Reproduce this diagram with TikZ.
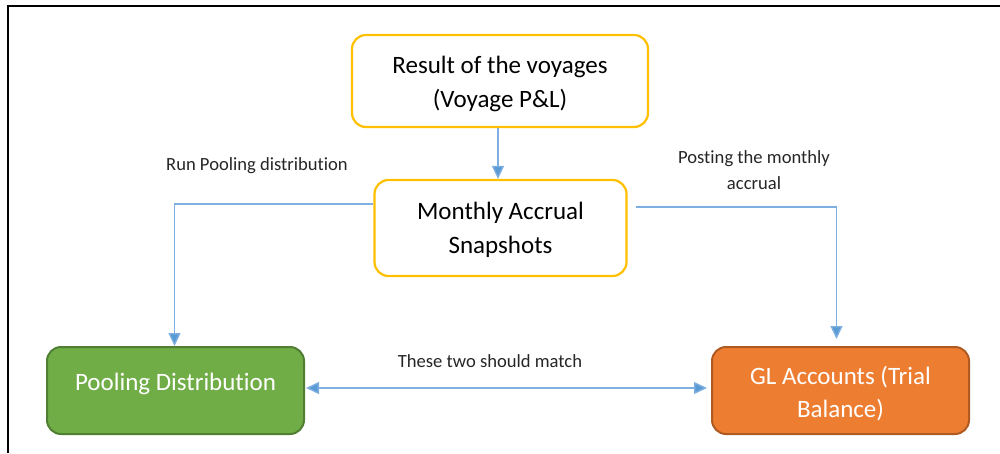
\documentclass[tikz,border=0pt]{standalone}
\usepackage{fontspec}
\setmainfont[Ligatures=NoCommon]{Carlito}
\usepackage{xcolor}
\usepackage{tikz}
\usetikzlibrary{arrows.meta,positioning}
\definecolor{pyellow}{HTML}{FFC000}
\definecolor{pgreen}{HTML}{70AD47}
\definecolor{pgreendark}{HTML}{507E32}
\definecolor{porange}{HTML}{ED7D31}
\definecolor{porangedark}{HTML}{AE5A21}
\definecolor{pline}{HTML}{7FAFE0}
\definecolor{ptip}{HTML}{5B9BD5}
\definecolor{ptext}{HTML}{262626}

\begin{document}
\begin{tikzpicture}[x=1pt,y=-1pt,
    stagebox/.style={draw=pyellow,line width=2.2pt,fill=white,rounded corners=14pt,
      align=center,text=black,font=\fontsize{25}{34}\selectfont,inner sep=0pt},
    resultbox/.style={line width=2pt,rounded corners=14pt,align=center,text=white,
      font=\fontsize{25}{33}\selectfont,inner sep=0pt,
      minimum width=257pt,minimum height=87pt},
    flow/.style={draw=pline,line width=1.3pt,-{Triangle[length=13pt,width=12pt,fill=ptip]}},
    note/.style={text=ptext,align=center,font=\fontsize{18.6}{26}\selectfont}]
  \useasboundingbox (0,0) rectangle (1000,453);
  % frame
  \draw[line width=2.5pt] (8,453) -- (8,6) -- (1000,6);

  % nodes
  \node[stagebox,minimum width=296pt,minimum height=92pt] (voyage) at (500,81)
    {\rule{0pt}{24pt}Result of the voyages\\(Voyage P\&L)};
  \node[stagebox,minimum width=252pt,minimum height=96pt] (snap) at (500.5,228)
    {\rule{0pt}{22pt}Monthly Accrual\\Snapshots};
  \node[resultbox,draw=pgreendark,fill=pgreen] (pool) at (175.5,390.5)
    {\raisebox{17pt}{Pooling Distribution}};
  \node[resultbox,draw=porangedark,fill=porange] (gl) at (840.5,390.5)
    {\rule{0pt}{24pt}GL Accounts (Trial\\Balance)};

  % labels
  \node[note] (runlbl) at (257,166) {Run Pooling distribution};
  \node[note] (postlbl) at (754,170) {Posting the monthly\\accrual};
  \node[note] (matchlbl) at (490,361) {These two should match};

  % connectors
  \draw[flow] ([xshift=-2pt]voyage.south) -- ([xshift=-2.5pt]snap.north);
  \draw[flow] ([shift={(0,-24)}]snap.west) -| ([xshift=-1pt]pool.north);
  \draw[flow] ([shift={(8,-21)}]snap.east) -| ([shift={(-4,-7)}]gl.north);
  \draw[flow,{Triangle[length=13pt,width=12pt,fill=ptip]}-{Triangle[length=13pt,width=12pt,fill=ptip]}]
    ([shift={(1,-2.5)}]pool.east) -- ([shift={(-4,-2.5)}]gl.west);
\end{tikzpicture}
\end{document}
